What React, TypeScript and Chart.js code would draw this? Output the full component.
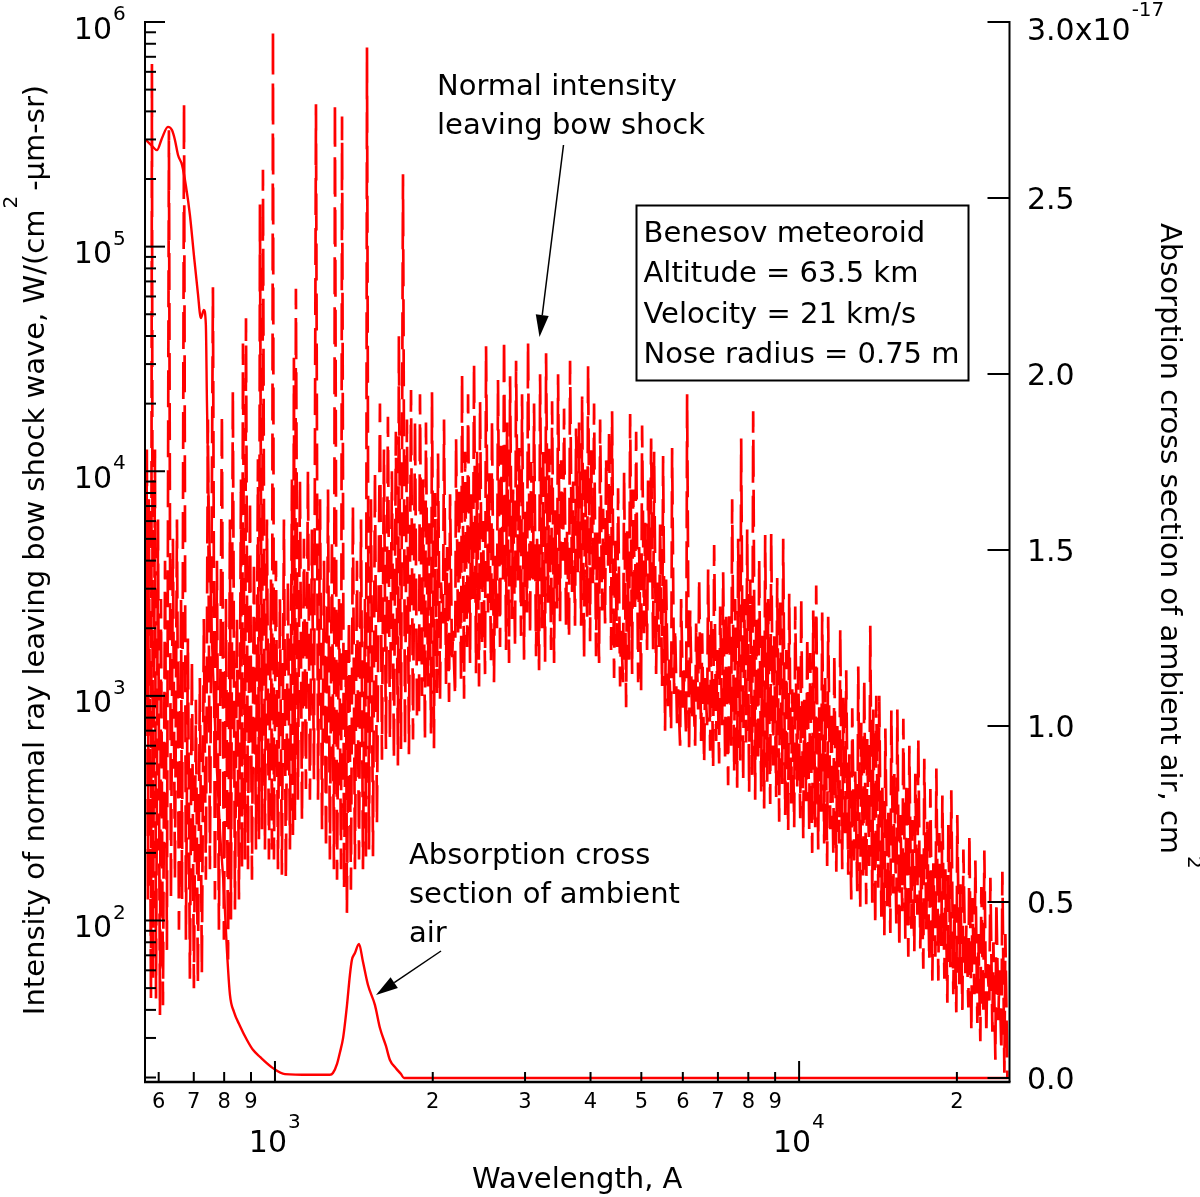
import React, { useEffect, useRef } from "react";
import { Chart, registerables } from "chart.js";

Chart.register(...registerables);

const FONT = '"DejaVu Sans", "Liberation Sans", sans-serif';

// Axis ranges
const X_MIN = 565;
const X_MAX = 25200;
const I_MIN = 19.1;
const I_MAX = 1e6;
const S_MIN = -0.0114;
const S_MAX = 3.0;

// Tick labels
const xMajorTicks = [1000, 10000];
const xMajorExponents = ["3", "4"];
const xMinorTicks = [600, 700, 800, 900, 2000, 3000, 4000, 5000, 6000, 7000, 8000, 9000, 20000];
const xMinorLabels = ["6", "7", "8", "9", "2", "3", "4", "5", "6", "7", "8", "9", "2"];
const yMajorTicks = [100, 1000, 10000, 100000, 1000000];
const yMajorExponents = ["2", "3", "4", "5", "6"];
const yMinorMantissas = [2, 3, 4, 5, 6, 7, 8, 9];
const yMinorDecades = [10, 100, 1000, 10000, 100000];
const rightTicks = [0, 0.5, 1.0, 1.5, 2.0, 2.5, 3.0];
const rightLabels = ["0.0", "0.5", "1.0", "1.5", "2.0", "2.5", "3.0x10"];
const rightExponent = "-17";

// Intensity of normal ray leaving bow shock wave, W/(cm2-um-sr) vs wavelength (A)
const spectrumFarUV: [number, number][] = [
  [567, 960], [569.6, 1.25e4], [572.1, 124], [574.6, 7.5e3], [580, 45], [582.5, 6.5e5], [585, 55], [590.3, 1.25e4],
  [593, 45], [598.2, 6.1e3], [603.4, 38], [606, 2.7e3], [611.4, 42], [617, 4.0e3], [622.1, 74], [627.6, 3.3e5],
  [633.2, 124], [638.8, 5.0e3], [644.4, 152], [650.2, 6.1e3], [655.9, 91], [661.9, 2.7e3], [664.8, 124], [670.7, 4.4e5],
  [676.3, 82], [682.2, 1.8e3], [688.2, 55], [694.3, 1.45e3], [700.4, 50], [706.6, 960], [712.7, 52], [719, 1.2e3],
  [725.3, 58], [731.7, 2.2e3], [738.2, 152], [744.9, 1.7e4], [751.5, 169], [761.5, 6.6e4], [768.2, 124], [775, 4.0e3],
  [781.8, 91], [792.1, 1.8e4], [799.1, 82], [806.2, 2.7e3], [813.8, 67], [820.6, 6.1e3], [824.2, 101], [831.1, 2.3e4],
  [838.8, 112], [846.3, 2.2e3], [853.7, 124], [861.3, 9.2e3], [865.1, 169], [868.9, 3.7e4], [876.6, 187], [880.5, 4.8e4],
  [888.3, 169], [896, 7.5e3], [903.9, 152], [911.9, 4.0e3], [919.9, 207], [928, 1.13e4], [932.1, 230], [936.2, 1.54e5],
  [944.5, 255], [948.6, 2.2e5], [957, 207], [965.4, 6.1e3], [973.9, 187], [982.6, 3.3e3], [986.9, 207], [991.3, 9.3e5],
  [995.6, 187], [1004.5, 4.0e3], [1013.3, 169], [1022, 2.7e3], [1031, 160], [1040.2, 6.1e3], [1049, 152], [1058.7, 3.3e3],
  [1068, 207], [1077.5, 9.2e3], [1082.2, 230], [1086.8, 3.2e4], [1091.6, 280], [1096.4, 6.5e4], [1106.2, 345], [1116, 9.2e3],
  [1125.9, 280], [1135.8, 5.0e3], [1145.8, 385], [1155.9, 1.0e4], [1166, 345], [1176.4, 5.5e3], [1186.8, 425], [1197.4, 4.3e5],
  [1208.2, 345], [1219, 7.5e3], [1229.7, 255], [1240.5, 4.0e3], [1251.5, 207], [1262.5, 8.3e3], [1273, 187], [1284.3, 5.0e3],
  [1295.7, 169], [1301.4, 4.4e5], [1313.5, 152], [1325.2, 2.7e3], [1336.8, 169], [1342.7, 3.8e5], [1354.6, 137], [1366.4, 1.6e3],
  [1371.8, 108], [1384, 2.2e3], [1396.1, 137], [1408.4, 7.0e3], [1421, 169], [1433.6, 4.0e3], [1446.6, 187], [1459.4, 6.1e3],
  [1472, 169], [1485.1, 2.7e3], [1491.6, 187], [1498.2, 7.7e5], [1511.4, 207], [1524.7, 7.5e3], [1538.2, 193], [1551.7, 1.0e4],
  [1565.2, 270], [1586, 2.0e4], [1600, 520], [1614.2, 1.25e4], [1628.3, 580], [1642.6, 1.75e4], [1657, 640], [1671.6, 1.0e4],
  [1686.3, 520], [1701, 1.5e4], [1716.2, 490], [1723.6, 4.0e4], [1739.6, 580], [1755, 2.1e5], [1770.5, 600], [1785.7, 1.7e4],
  [1801.4, 550], [1818, 2.3e4], [1834, 640], [1850, 1.7e4], [1866.3, 810],
];

const spectrumNearUV: [number, number][] = [
  [1882.7, 785], [1891, 2.2e4], [1907.7, 1.0e3], [1916, 9.2e3], [1932.9, 630], [1941.3, 1.65e4], [1958.6, 1.1e3], [1967.3, 6.1e3],
  [1984.7, 680], [1993.4, 2.25e4], [2011.1, 585], [2020, 8.0e3], [2038, 1.03e3], [2047, 1.2e4], [2065, 960], [2074, 3.2e3],
  [2092.5, 2.1e3], [2101.7, 1.7e4], [2120.3, 1.13e3], [2129.6, 4.6e3], [2148.5, 940], [2158, 7.9e3], [2177, 1.4e3], [2186.6, 1.95e3],
  [2206.1, 1.0e3], [2215.8, 1.4e4], [2235.4, 1.85e3], [2245.1, 8.5e3], [2265, 1.15e3], [2274.9, 2.7e4], [2295.1, 970], [2305.2, 1.22e4],
  [2325.5, 1.65e3], [2335.7, 2.2e4], [2356, 1.4e3], [2366.4, 7.9e3], [2387.3, 2.7e3], [2397.8, 3.05e4], [2419, 1.26e3], [2429.6, 1.22e4],
  [2451.2, 1.1e3], [2462, 2.05e4], [2483.7, 1.65e3], [2494.6, 6.0e3], [2516.6, 1.25e3], [2527.7, 3.6e4], [2550.1, 2.35e3], [2561.3, 9.8e3],
  [2583.3, 1.4e3], [2594.7, 1.7e4], [2617.6, 1.15e3], [2629.1, 4.2e3], [2652.2, 2.0e3], [2664, 2.55e4], [2688, 1.65e3], [2699.8, 1.3e4],
  [2723.6, 3.3e3], [2735.6, 3.9e4], [2759.8, 1.6e3], [2771.9, 1.65e4], [2796.6, 1.4e3], [2809, 2.65e4], [2833.7, 2.2e3], [2846.2, 8.3e3],
  [2871.3, 1.65e3], [2884, 3.1e4], [2909.4, 3.2e3], [2922.2, 1.27e4], [2947.9, 1.85e3], [2960.9, 2.2e4], [2987, 1.45e3], [3000.2, 6.6e3],
  [3026.6, 2.35e3], [3039.9, 3.8e4], [3067, 1.85e3], [3080.5, 1.1e4], [3107.6, 3.3e3], [3121.3, 2.0e4], [3148.8, 1.5e3], [3162.7, 5.0e3],
  [3190.9, 1.3e3], [3205, 2.7e4], [3233.2, 2.0e3], [3247.5, 1.25e4], [3276.1, 1.42e3], [3290.5, 3.35e4], [3319.5, 2.6e3], [3334.1, 1.26e4],
  [3363.7, 1.6e3], [3378.5, 2.05e4], [3408.2, 1.4e3], [3423.2, 6.7e3], [3453.4, 2.45e3], [3468.6, 2.7e4], [3499, 2.15e3], [3514.4, 1.12e4],
  [3545.3, 4.0e3], [3560.9, 1.9e4], [3592.3, 2.0e3], [3608.1, 5.45e3], [3640, 1.8e3], [3656, 3.1e4], [3688.2, 2.9e3], [3704.4, 9.0e3],
  [3737, 2.05e3], [3753.5, 1.55e4], [3786.5, 3.55e3], [3803.2, 1.65e4], [3837.8, 2.05e3], [3854.7, 2.15e4], [3888.6, 1.45e3], [3905.7, 1.03e4],
  [3940.1, 2.25e3], [3957.4, 2.95e4], [3992, 1.75e3], [4009.6, 1.24e4], [4044.9, 3.1e3], [4062.7, 2.0e4], [4098.4, 1.5e3], [4116.5, 5.4e3],
  [4153.7, 1.4e3], [4172, 1.7e4], [4208.7, 2.4e3], [4227.3, 6.8e3], [4264.4, 2.1e3], [4283.2, 1.15e4], [4320.9, 3.8e3], [4339.9, 1.55e4],
  [4378.2, 1.6e3], [4397.4, 1.85e4], [4436.1, 1.2e3], [4455.6, 4.9e3], [4494.8, 1.65e3], [4514.6, 8.4e3], [4555, 1.1e3], [4575, 1.95e3],
  [4615.3, 1.15e3], [4635.6, 1.0e4], [4677.2, 890], [4697.8, 5.4e3], [4739.1, 1.45e3], [4760, 1.8e4], [4802, 1.25e3], [4823, 8.3e3],
  [4866, 2.4e3], [4887.4, 1.5e4], [4930.4, 1.15e3], [4952.1, 4.6e3], [4994.9, 1.05e3], [5016.9, 1.6e4], [5061, 1.9e3], [5083.3, 5.9e3],
  [5128, 1.6e3], [5150.6, 9.1e3], [5197, 3.2e3], [5219.9, 1.4e4], [5265.8, 1.6e3], [5289, 1.22e4], [5335.5, 1.25e3], [5359, 3.2e3],
  [5406.2, 1.65e3], [5430, 5.8e3], [5477.8, 1.1e3], [5501.9, 1.17e4],
];

const spectrumVisIR: [number, number][] = [
  [5550, 700], [5575, 3.3e3], [5624, 900], [5649, 1.45e3], [5699, 710], [5724, 1.27e4], [5774, 1.02e3], [5800, 2.0e3],
  [5851, 740], [5877, 1.07e3], [5929, 600], [5955, 2.7e3], [6008, 880], [6034, 1.3e3], [6087, 660], [6114, 2.2e4],
  [6168, 560], [6196, 2.4e3], [6251, 770], [6278, 1.2e3], [6334, 600], [6361, 2.1e3], [6417, 870], [6446, 3.35e3],
  [6502, 630], [6531, 1.9e3], [6589, 500], [6618, 1.2e3], [6676, 740], [6705, 3.65e3], [6765, 570], [6795, 2.2e3],
  [6855, 475], [6885, 4.7e3], [6946, 630], [6976, 1.6e3], [7038, 500], [7069, 2.5e3], [7131, 730], [7163, 3.55e3],
  [7226, 510], [7258, 2.4e3], [7321, 400], [7354, 2.4e3], [7420, 600], [7452, 7.5e3], [7518, 455], [7551, 2.7e3],
  [7618, 390], [7651, 5.0e3], [7719, 515], [7753, 1.4e4], [7822, 415], [7856, 2.7e3], [7925, 620], [7960, 5.5e3],
  [8030, 370], [8066, 3.3e3], [8137, 445], [8173, 1.85e4], [8245, 345], [8281, 2.3e3], [8354, 505], [8391, 4.1e3],
  [8465, 375], [8502, 1.85e3], [8577, 315], [8615, 5.2e3], [8691, 415], [8729, 2.7e3], [8807, 330], [8846, 5.3e3],
  [8924, 490], [8963, 1.85e3], [9042, 355], [9082, 3.35e3], [9162, 275], [9203, 2.7e3], [9284, 405], [9325, 5.0e3],
  [9407, 295], [9449, 1.6e3], [9532, 250], [9574, 2.85e3], [9659, 325], [9702, 1.07e3], [9787, 260], [9831, 2.5e3],
  [9917, 395], [9960, 1.35e3], [10050, 285], [10094, 2.75e3], [10184, 230], [10228, 960], [10318, 340], [10364, 1.85e3],
  [10455, 250], [10500, 1.55e3], [10592, 200], [10640, 2.4e3], [10733, 260], [10780, 3.1e3], [10875, 207], [10923, 890],
  [11018, 305], [11067, 2.35e3], [11164, 220], [11213, 1.2e3], [11312, 175], [11362, 2.25e3], [11470, 255], [11520, 870],
  [11623, 195], [11673, 1.55e3], [11776, 165], [11828, 735], [11932, 220], [11980, 2.0e3], [12085, 169], [12139, 980],
  [12246, 235], [12300, 1.3e3], [12408, 160], [12463, 550], [12575, 124], [12630, 880], [12742, 185], [12798, 460],
  [12911, 135], [12967, 1.35e3], [13080, 112], [13138, 760], [13254, 150], [13312, 1.2e3], [13429, 118], [13488, 650],
  [13607, 175], [13670, 2.05e3], [13790, 120], [13852, 870], [13973, 95], [14035, 1.0e3], [14158, 140], [14221, 1.0e3],
  [14353, 104], [14416, 390], [14543, 86], [14607, 715], [14736, 112], [14800, 310], [14930, 88], [14996, 860],
  [15129, 132], [15194, 450], [15329, 95], [15396, 870], [15532, 75], [15600, 295], [15737, 110], [15807, 790],
  [15946, 83], [16017, 415], [16157, 69], [16229, 600], [16372, 92], [16443, 280], [16589, 73], [16662, 450],
  [16809, 106], [16882, 650], [17030, 75], [17105, 197], [17257, 61], [17331, 525], [17485, 90], [17562, 275],
  [17716, 66], [17800, 385], [17957, 54], [18037, 180], [18195, 69], [18275, 475], [18435, 54], [18517, 245],
  [18682, 77], [18764, 360], [18929, 55], [19013, 169], [19180, 43], [19264, 270], [19430, 62], [19515, 380],
  [19688, 47], [19774, 118], [19949, 39], [20036, 295], [20213, 52], [20310, 145], [20489, 40], [20580, 207],
  [20761, 58], [20852, 95], [21035, 41], [21128, 245], [21313, 32], [21407, 126], [21596, 47], [21691, 185],
  [21882, 35], [21978, 87], [22170, 29], [22268, 141], [22465, 38], [22563, 205], [22762, 31], [22862, 64],
  [23064, 44], [23170, 155], [23374, 32], [23479, 80], [23685, 24], [23789, 122], [23998, 36], [24104, 60],
  [24317, 26], [24423, 165], [24639, 21], [24748, 87], [24965, 20],
];

// Absorption cross section of ambient air, in units of 1e-17 cm^2
const absorptionCurve: [number, number][] = [
  [567, 2.665], [582.5, 2.648], [595.5, 2.636], [608.7, 2.67], [624.9, 2.702], [636, 2.693], [644.4, 2.665], [653.2, 2.622],
  [664.8, 2.594], [676.3, 2.534], [688.2, 2.452], [700.4, 2.338], [712.7, 2.23], [722.2, 2.159], [731.7, 2.182], [738.2, 2.139],
  [741.6, 1.926], [748.2, 1.585], [758.1, 1.244], [771.6, 0.932], [785.2, 0.705], [799.1, 0.534], [809.7, 0.364], [820.6, 0.236],
  [835.1, 0.188], [857.5, 0.148], [884.3, 0.108], [907.9, 0.08], [936.2, 0.06], [991.3, 0.028], [1044.8, 0.011], [1166, 0.009],
  [1273, 0.009], [1290, 0.014], [1313.5, 0.04], [1331, 0.074], [1349, 0.114], [1371.8, 0.205], [1390, 0.293], [1402, 0.335],
  [1421, 0.355], [1446.6, 0.381], [1472, 0.33], [1504.8, 0.264], [1551.7, 0.207], [1586, 0.142], [1628.3, 0.091], [1657, 0.051],
  [1701, 0.028], [1739.6, 0.011], [1762.7, 0], [25000, 0],
];

const boxLines = ["Benesov meteoroid", "Altitude = 63.5 km", "Velocity = 21 km/s", "Nose radius = 0.75 m"];
const intensityNote = ["Normal intensity", "leaving bow shock"];
const absorptionNote = ["Absorption cross", "section of ambient", "air"];

const decorations = {
  id: "decorations",
  afterDatasetsDraw(chart: any) {
    const { ctx, chartArea: a, scales } = chart;
    const sx = scales.x;
    const sy = scales.y;
    const sr = scales.y2;
    const big = `30px ${FONT}`;
    const mid = `29px ${FONT}`;
    const sup = `20px ${FONT}`;
    ctx.save();
    ctx.strokeStyle = "#000";
    ctx.fillStyle = "#000";
    ctx.lineCap = "butt";
    ctx.textBaseline = "alphabetic";
    const seg = (x1: number, y1: number, x2: number, y2: number, w: number) => {
      ctx.lineWidth = w;
      ctx.beginPath();
      ctx.moveTo(x1, y1);
      ctx.lineTo(x2, y2);
      ctx.stroke();
    };

    // spines
    seg(a.left, a.top - 1, a.left, a.bottom, 2);
    seg(a.right, a.top - 1, a.right, a.bottom, 2);
    seg(a.left - 1, a.bottom, a.right + 1, a.bottom, 2.5);

    // left axis
    yMajorTicks.forEach((v, i) => {
      const y = sy.getPixelForValue(v);
      seg(a.left, y, a.left + 20, y, 2);
      ctx.font = big;
      ctx.textAlign = "right";
      ctx.fillText("10", 112, y + 16.5);
      ctx.font = sup;
      ctx.textAlign = "left";
      ctx.fillText(yMajorExponents[i], 113, y - 2);
    });
    yMinorDecades.forEach((d) =>
      yMinorMantissas.forEach((m) => {
        const v = d * m;
        if (v < I_MIN || v > I_MAX) return;
        const y = sy.getPixelForValue(v);
        seg(a.left, y, a.left + 11, y, 2);
      })
    );

    // bottom axis
    xMajorTicks.forEach((v, i) => {
      const x = sx.getPixelForValue(v);
      seg(x, a.bottom, x, a.bottom - 21, 2);
      ctx.font = big;
      ctx.textAlign = "right";
      ctx.fillText("10", x + 12, 1151.5);
      ctx.font = sup;
      ctx.textAlign = "left";
      ctx.fillText(xMajorExponents[i], x + 13, 1128);
    });
    xMinorTicks.forEach((v, i) => {
      const x = sx.getPixelForValue(v);
      seg(x, a.bottom, x, a.bottom - 10, 2);
      ctx.font = `21px ${FONT}`;
      ctx.textAlign = "center";
      ctx.fillText(xMinorLabels[i], x, 1108);
    });

    // right axis
    rightTicks.forEach((v, i) => {
      const y = sr.getPixelForValue(v);
      seg(a.right, y, a.right - 22, y, 2);
      ctx.font = big;
      ctx.textAlign = "left";
      const base = i === rightTicks.length - 1 ? 40 : y + 11;
      ctx.fillText(rightLabels[i], 1027, base);
      if (i === rightTicks.length - 1) {
        const w = ctx.measureText(rightLabels[i]).width;
        ctx.font = sup;
        ctx.fillText(rightExponent, 1027 + w + 1, 16);
      }
    });

    // x title
    ctx.font = mid;
    ctx.textAlign = "center";
    ctx.fillText("Wavelength, A", (a.left + a.right) / 2, 1188);

    // left title
    {
      const t1 = "Intensity of normal ray leaving bow shock wave, W/(cm";
      const t3 = "-\u00b5m-sr)";
      ctx.font = mid;
      const w1 = ctx.measureText(t1).width;
      const w3 = ctx.measureText(t3).width;
      ctx.font = sup;
      const w2 = ctx.measureText("2").width;
      const gap = 6;
      const total = w1 + w2 + gap + w3;
      ctx.save();
      ctx.translate(44, 550);
      ctx.rotate(-Math.PI / 2);
      ctx.textAlign = "left";
      const s0 = -total / 2;
      ctx.font = mid;
      ctx.fillText(t1, s0, 0);
      ctx.font = sup;
      ctx.fillText("2", s0 + w1 + 1, -27);
      ctx.font = mid;
      ctx.fillText(t3, s0 + w1 + w2 + gap, 0);
      ctx.restore();
    }

    // right title
    {
      const t1 = "Absorption cross section of ambient air, cm";
      ctx.save();
      ctx.translate(1161, 223);
      ctx.rotate(Math.PI / 2);
      ctx.textAlign = "left";
      ctx.font = mid;
      const w1 = ctx.measureText(t1).width;
      ctx.fillText(t1, 0, 0);
      ctx.font = sup;
      ctx.fillText("2", w1 + 2, -27);
      ctx.restore();
    }

    // annotations
    const arrow = (x1: number, y1: number, x2: number, y2: number) => {
      const ang = Math.atan2(y2 - y1, x2 - x1);
      const len = 22;
      const half = 6.5;
      const bx = x2 - len * Math.cos(ang);
      const by = y2 - len * Math.sin(ang);
      seg(x1, y1, bx, by, 1.5);
      ctx.beginPath();
      ctx.moveTo(x2, y2);
      ctx.lineTo(bx + half * Math.sin(ang), by - half * Math.cos(ang));
      ctx.lineTo(bx - half * Math.sin(ang), by + half * Math.cos(ang));
      ctx.closePath();
      ctx.fill();
    };
    ctx.font = mid;
    ctx.textAlign = "left";
    intensityNote.forEach((t, i) => ctx.fillText(t, 437, 95 + i * 39));
    arrow(563.5, 145, 539.5, 337);
    absorptionNote.forEach((t, i) => ctx.fillText(t, 409, 864 + i * 39));
    arrow(441, 951, 376, 995);

    // info box
    ctx.lineWidth = 2;
    ctx.strokeRect(636.5, 205.5, 332, 175);
    boxLines.forEach((t, i) => ctx.fillText(t, 643.5, 241.5 + i * 40.5));

    ctx.restore();
  },
};

export default function App() {
  const canvasRef = useRef<HTMLCanvasElement | null>(null);

  useEffect(() => {
    const canvas = canvasRef.current;
    if (!canvas) return;
    const intensityPoints = [...spectrumFarUV, ...spectrumNearUV, ...spectrumVisIR].map(([x, y]) => ({ x, y }));
    const absorptionPoints = absorptionCurve.map(([x, y]) => ({ x, y }));
    const chart = new Chart(canvas, {
      type: "line",
      data: {
        datasets: [
          {
            label: "Absorption cross section of ambient air",
            data: absorptionPoints,
            xAxisID: "x",
            yAxisID: "y2",
            borderColor: "#ff0000",
            borderWidth: 2.4,
            pointRadius: 0,
            fill: false,
            cubicInterpolationMode: "monotone",
          },
          {
            label: "Normal intensity leaving bow shock",
            data: intensityPoints,
            xAxisID: "x",
            yAxisID: "y",
            borderColor: "#ff0000",
            borderWidth: 2.7,
            borderDash: [37, 13],
            borderJoinStyle: "bevel",
            borderCapStyle: "butt",
            pointRadius: 0,
            tension: 0,
            fill: false,
          },
        ],
      },
      options: {
        animation: false,
        responsive: false,
        maintainAspectRatio: false,
        events: [],
        layout: { padding: { top: 22, left: 0, right: 0, bottom: 0 } },
        plugins: { legend: { display: false }, tooltip: { enabled: false }, title: { display: false } },
        scales: {
          x: {
            type: "logarithmic",
            position: "bottom",
            min: X_MIN,
            max: X_MAX,
            grid: { display: false, drawTicks: false },
            border: { display: false },
            ticks: { display: false },
            afterFit: (s: any) => {
              s.height = 115;
            },
          },
          y: {
            type: "logarithmic",
            position: "left",
            min: I_MIN,
            max: I_MAX,
            grid: { display: false, drawTicks: false },
            border: { display: false },
            ticks: { display: false },
            afterFit: (s: any) => {
              s.width = 145;
            },
          },
          y2: {
            type: "linear",
            position: "right",
            min: S_MIN,
            max: S_MAX,
            grid: { display: false, drawTicks: false },
            border: { display: false },
            ticks: { display: false },
            afterFit: (s: any) => {
              s.width = 190.5;
            },
          },
        },
      } as any,
      plugins: [decorations],
    });
    return () => chart.destroy();
  }, []);

  return (
    <div style={{ position: "absolute", left: 0, top: 0, width: 1200, height: 1197, background: "#fff" }}>
      <canvas ref={canvasRef} width={1200} height={1197} style={{ width: 1200, height: 1197, display: "block" }} />
    </div>
  );
}
